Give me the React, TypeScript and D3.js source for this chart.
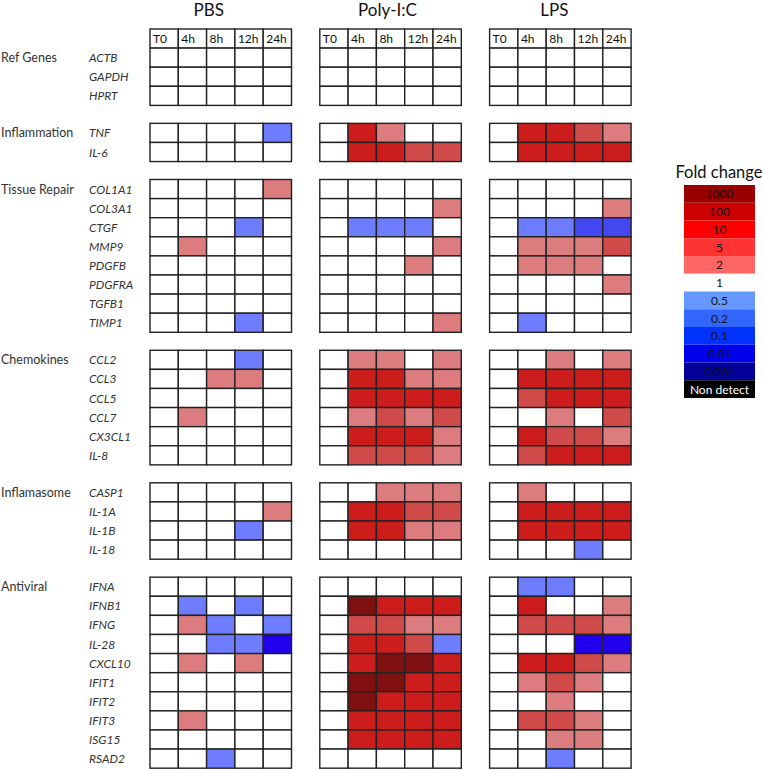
import React from "react";
import * as d3 from "d3";

const conditions = ["PBS", "Poly-I:C", "LPS"];
const timepoints = ["T0", "4h", "8h", "12h", "24h"];

const groupNames = ["Ref Genes", "Inflammation", "Tissue Repair", "Chemokines", "Inflamasome", "Antiviral"];
const refGenes = ["ACTB", "GAPDH", "HPRT"];
const inflammationGenes = ["TNF", "IL-6"];
const tissueGenes = ["COL1A1", "COL3A1", "CTGF", "MMP9", "PDGFB", "PDGFRA", "TGFB1", "TIMP1"];
const chemokineGenes = ["CCL2", "CCL3", "CCL5", "CCL7", "CX3CL1", "IL-8"];
const inflamasomeGenes = ["CASP1", "IL-1A", "IL-1B", "IL-18"];
const antiviralGenes = ["IFNA", "IFNB1", "IFNG", "IL-28", "CXCL10", "IFIT1", "IFIT2", "IFIT3", "ISG15", "RSAD2"];

// Fold-change levels: 4=1000, 3=100, 2=10/5, 1=2, 0=1, -1=0.5, -2=0.2/0.1, -3=0.01
const pbsLevels = [
  [0, 0, 0, 0, 0], [0, 0, 0, 0, 0], [0, 0, 0, 0, 0],
  [0, 0, 0, 0, -1], [0, 0, 0, 0, 0],
  [0, 0, 0, 0, 1], [0, 0, 0, 0, 0], [0, 0, 0, -1, 0], [0, 1, 0, 0, 0], [0, 0, 0, 0, 0], [0, 0, 0, 0, 0], [0, 0, 0, 0, 0], [0, 0, 0, -1, 0],
  [0, 0, 0, -1, 0], [0, 0, 1, 1, 0], [0, 0, 0, 0, 0], [0, 1, 0, 0, 0], [0, 0, 0, 0, 0], [0, 0, 0, 0, 0],
  [0, 0, 0, 0, 0], [0, 0, 0, 0, 1], [0, 0, 0, -1, 0], [0, 0, 0, 0, 0],
  [0, 0, 0, 0, 0], [0, -1, 0, -1, 0], [0, 1, -1, 0, -1], [0, 0, -1, -1, -3], [0, 1, 0, 1, 0], [0, 0, 0, 0, 0], [0, 0, 0, 0, 0], [0, 1, 0, 0, 0], [0, 0, 0, 0, 0], [0, 0, -1, 0, 0],
];
const polyLevels = [
  [0, 0, 0, 0, 0], [0, 0, 0, 0, 0], [0, 0, 0, 0, 0],
  [0, 3, 1, 0, 0], [0, 3, 3, 2, 2],
  [0, 0, 0, 0, 0], [0, 0, 0, 0, 1], [0, -1, -1, -1, 0], [0, 0, 0, 0, 1], [0, 0, 0, 1, 0], [0, 0, 0, 0, 0], [0, 0, 0, 0, 0], [0, 0, 0, 0, 1],
  [0, 1, 1, 0, 1], [0, 3, 3, 1, 1], [0, 3, 3, 3, 3], [0, 1, 2, 1, 2], [0, 3, 3, 3, 1], [0, 2, 2, 2, 1],
  [0, 0, 1, 1, 1], [0, 3, 3, 2, 2], [0, 3, 3, 1, 1], [0, 0, 0, 0, 0],
  [0, 0, 0, 0, 0], [0, 4, 3, 3, 3], [0, 2, 2, 1, 1], [0, 3, 3, 2, -1], [0, 3, 4, 4, 3], [0, 4, 4, 3, 3], [0, 4, 3, 3, 3], [0, 3, 3, 3, 3], [0, 3, 3, 3, 3], [0, 0, 0, 0, 0],
];
const lpsLevels = [
  [0, 0, 0, 0, 0], [0, 0, 0, 0, 0], [0, 0, 0, 0, 0],
  [0, 3, 3, 2, 1], [0, 3, 3, 3, 3],
  [0, 0, 0, 0, 0], [0, 0, 0, 0, 1], [0, -1, -1, -2, -2], [0, 1, 1, 1, 2], [0, 1, 1, 1, 0], [0, 0, 0, 0, 1], [0, 0, 0, 0, 0], [0, -1, 0, 0, 0],
  [0, 0, 1, 0, 1], [0, 3, 3, 3, 3], [0, 2, 3, 3, 3], [0, 0, 1, 0, 2], [0, 3, 2, 2, 1], [0, 2, 3, 3, 3],
  [0, 1, 0, 0, 0], [0, 3, 3, 3, 3], [0, 3, 3, 3, 3], [0, 0, 0, -1, 0],
  [0, -1, -1, 0, 0], [0, 3, 0, 0, 1], [0, 2, 2, 2, 1], [0, 0, 0, -3, -3], [0, 3, 3, 2, 1], [0, 1, 2, 1, 0], [0, 0, 1, 0, 0], [0, 2, 2, 1, 0], [0, 0, 1, 1, 0], [0, 0, -1, 0, 0],
];

const levelDomain = [-3, -2, -1, 0, 1, 2, 3, 4];
const levelColors = ["#2200ee", "#4446f2", "#6e7dff", "#ffffff", "#dc7c7e", "#d04a4a", "#cc1c1c", "#801010"];

const legendLabels = ["1000", "100", "10", "5", "2", "1", "0.5", "0.2", "0.1", "0.01", "0.001", "Non detect"];
const legendColors = ["#990000", "#cc0000", "#ff0000", "#ff3333", "#ff6666", "#ffffff", "#6699ff", "#3366ff", "#0033ff", "#0000ee", "#000099", "#000000"];

const FONT = "Lato, 'Open Sans', sans-serif";
const titleOffsets = [-12, -3, -6];

export default function App() {
  const groups = [refGenes, inflammationGenes, tissueGenes, chemokineGenes, inflamasomeGenes, antiviralGenes];
  const levels = [pbsLevels, polyLevels, lpsLevels];
  const color = d3.scaleOrdinal<number, string>().domain(levelDomain).range(levelColors);

  const cellW = 28.3;
  const cellH = 19.1;
  const gapUnits = 0.94;
  const panel = d3.scaleBand().domain(conditions).range([150, 150 + 17 * cellW]).paddingInner(1 / 6).paddingOuter(0);
  const col = d3.scaleBand().domain(timepoints).range([0, panel.bandwidth()]);
  const y = d3.scaleLinear().domain([0, 1]).range([29, 29 + cellH]);

  const rows: { gene: string; group: number; first: boolean; unit: number; idx: number }[] = [];
  let unit = 1;
  let idx = 0;
  groups.forEach((genes, gi) => {
    if (gi > 0) unit += gapUnits;
    genes.forEach((g, k) => {
      rows.push({ gene: g, group: gi, first: k === 0, unit, idx });
      unit += 1;
      idx += 1;
    });
  });

  const rowH = y(1) - y(0);
  const legendY = d3.scaleBand().domain(legendLabels).range([185, 185 + 12 * 17.75]);

  return (
    <svg width={764} height={770} style={{ position: "absolute", left: 0, top: 0 }} fontFamily={FONT}>
      {conditions.map((c, pi) => {
        const px = panel(c)!;
        return (
          <g key={c}>
            <text x={px + panel.bandwidth() / 2 + titleOffsets[pi]} y={16} textAnchor="middle" fontSize={17} fill="#111">
              {c}
            </text>
            {timepoints.map((t) => (
              <g key={t}>
                <rect x={px + col(t)!} y={y(0)} width={col.bandwidth()} height={rowH} fill="#fff" stroke="#222" strokeWidth={1.4} />
                <text x={px + col(t)! + 3} y={y(0.5) + 4.5} fontSize={12} fill="#111">
                  {t}
                </text>
              </g>
            ))}
            {rows.map((r) =>
              timepoints.map((t, ti) => (
                <rect
                  key={r.gene + t}
                  x={px + col(t)!}
                  y={y(r.unit)}
                  width={col.bandwidth()}
                  height={rowH}
                  fill={color(levels[pi][r.idx][ti])}
                  stroke="#222"
                  strokeWidth={1.4}
                />
              ))
            )}
          </g>
        );
      })}
      {rows.map((r) => (
        <g key={"lab" + r.gene}>
          {r.first && (
            <text x={1} y={y(r.unit + 0.5) + 4.5} fontSize={12.5} fill="#333">
              {groupNames[r.group]}
            </text>
          )}
          <text x={89} y={y(r.unit + 0.5) + 4.5} fontSize={12} fontStyle="italic" fill="#333">
            {r.gene}
          </text>
        </g>
      ))}
      <text x={719} y={178} textAnchor="middle" fontSize={16.5} fill="#111">
        Fold change
      </text>
      {legendLabels.map((l, i) => (
        <g key={l}>
          <rect x={684} y={legendY(l)!} width={71} height={legendY.bandwidth()} fill={legendColors[i]} />
          <text
            x={719.5}
            y={legendY(l)! + legendY.bandwidth() / 2 + 4.5}
            textAnchor="middle"
            fontSize={12}
            fill={l === "Non detect" ? "#fff" : "#111"}
          >
            {l}
          </text>
        </g>
      ))}
    </svg>
  );
}
